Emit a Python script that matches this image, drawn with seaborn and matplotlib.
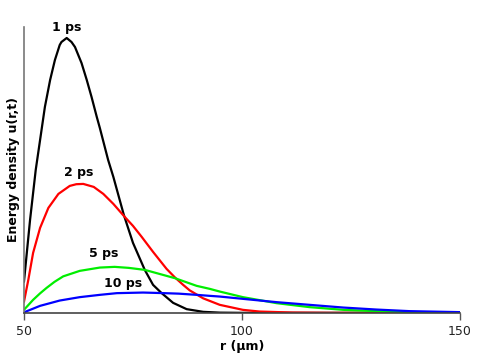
#!/usr/bin/env python3
"""Radial energy density u(r,t) at several times."""
import matplotlib
matplotlib.use("Agg")
import matplotlib.pyplot as plt
import pandas as pd
import seaborn as sns

# values (arbitrary units)
r_1ps = [50.0, 51.4, 52.7, 53.7, 54.8, 56.0, 57.1, 58.2, 58.6, 59.8, 60.9, 61.7, 63.2,
         64.4, 65.5, 66.7, 67.4, 69.3, 70.5, 72.9, 75.0, 77.7, 79.6, 81.5, 84.2, 87.3,
         91.1, 95.0, 100.0, 150.0]
u_1ps = [31, 93, 143, 173, 206, 233, 253, 268, 271, 275, 271, 266, 250,
         233, 216, 196, 185, 153, 136, 98, 70, 43, 28, 20, 10, 3.7,
         1, 0.2, 0, 0]

r_2ps = [50.0, 51.0, 52.1, 53.7, 55.6, 57.9, 60.5, 62.0, 63.6, 66.0, 68.2, 70.5, 72.9,
         75.0, 77.0, 79.6, 82.7, 84.6, 86.5, 88.0, 91.1, 94.9, 100.2, 104.0, 111.6,
         120.0, 150.0]
u_2ps = [11, 33, 60, 85, 105, 119, 127, 128.7, 129, 126, 119, 109, 97,
         87, 76, 61, 44, 35.5, 28, 22.5, 14.5, 8, 3, 1.3, 0.3,
         0, 0]

r_5ps = [50.0, 52.1, 53.7, 55.2, 57.0, 59.0, 62.8, 67.4, 70.8, 74.0, 77.7, 84.6, 89.6,
         92.6, 94.9, 100.2, 107.9, 115.5, 123.2, 130.8, 138.4, 150.0]
u_5ps = [3, 13, 19.5, 25, 31, 36.5, 42, 45.3, 46, 45, 43, 34.7, 27,
         24, 21.3, 15.7, 9.7, 5.7, 3, 1.7, 0.7, 0.2]

r_10ps = [50.0, 53.7, 56.0, 58.2, 62.8, 67.4, 71.3, 77.3, 81.5, 85.5, 89.6, 92.6, 94.9,
          100.2, 107.9, 115.5, 123.2, 130.8, 138.4, 150.0]
u_10ps = [0.5, 7, 9.7, 12.3, 15.7, 18, 19.7, 20.3, 19.8, 19.2, 18, 17, 16.3,
          14, 10.7, 8, 5.3, 3.3, 1.7, 0.7]

labels = ["1 ps", "2 ps", "5 ps", "10 ps"]
colors = ["black", "#ff0000", "#00ee00", "#0000ff"]
label_pos = [(59.8, 285), (62.5, 140), (68.3, 59), (72.7, 29)]


def main():
    sns.set_style("white")
    plt.rcParams["font.family"] = ["DejaVu Sans"]
    plt.rcParams["text.color"] = "black"
    plt.rcParams["axes.labelcolor"] = "black"

    fig, ax = plt.subplots(figsize=(4.99, 3.6), dpi=100)
    fig.subplots_adjust(left=0.048, right=0.922, bottom=0.131, top=0.925)

    curves = [(r_1ps, u_1ps), (r_2ps, u_2ps), (r_5ps, u_5ps), (r_10ps, u_10ps)]
    for (r, u), lab, col, (tx, ty) in zip(curves, labels, colors, label_pos):
        df = pd.DataFrame({"r": r, "u": u})
        sns.lineplot(data=df, x="r", y="u", color=col, linewidth=1.6, ax=ax)
        ax.text(tx, ty, lab, ha="center", va="center", fontsize=9,
                fontweight="bold", color="black")

    ax.set_xlim(50, 150)
    ax.set_ylim(0, 286)
    ax.set_xticks([50, 100, 150])
    ax.set_yticks([])
    ax.tick_params(axis="x", direction="out", length=5, width=1, color="#555555",
                   labelsize=9, pad=3.5, labelcolor="#222222", bottom=True)

    for side in ["top", "right"]:
        ax.spines[side].set_visible(False)
    ax.spines["left"].set_color("#777777")
    ax.spines["bottom"].set_color("#444444")
    ax.spines["left"].set_linewidth(1.2)
    ax.spines["bottom"].set_linewidth(1.2)

    ax.set_xlabel("r (\u03bcm)", fontsize=9, fontweight="bold", labelpad=2)
    ax.set_ylabel("Energy density u(r,t)", fontsize=9, fontweight="bold", labelpad=3)

    plt.savefig("out.png", dpi=100)
    plt.close()


if __name__ == "__main__":
    main()
